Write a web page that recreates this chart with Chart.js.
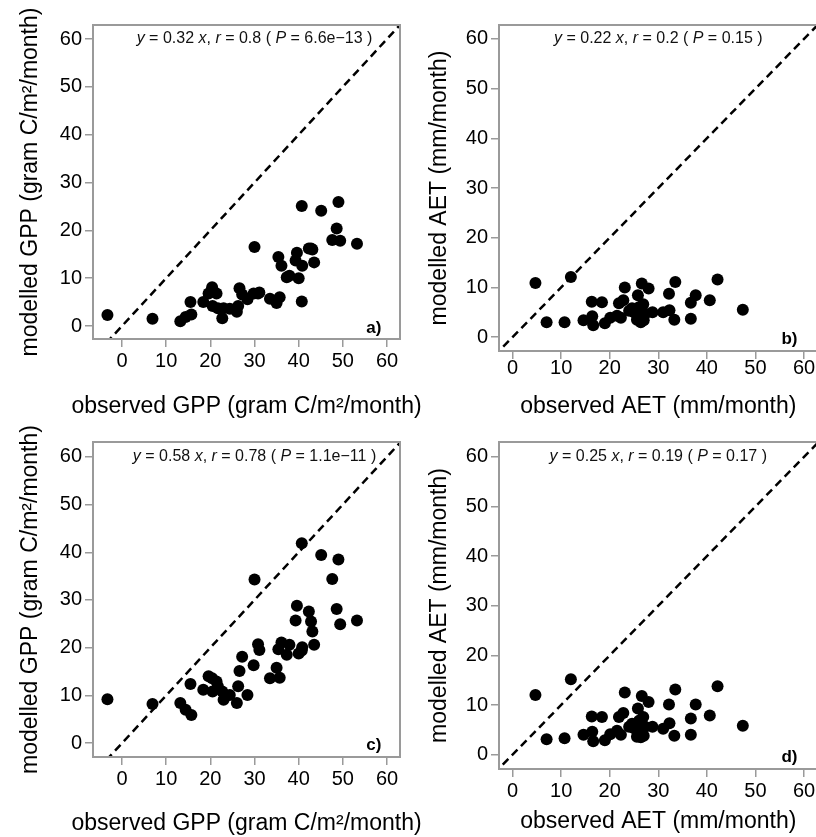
<!DOCTYPE html>
<html>
<head>
<meta charset="utf-8">
<script src="https://cdn.jsdelivr.net/npm/chart.js@4"></script>
<style>
  html, body { margin: 0; padding: 0; background: #fff; overflow: hidden; width: 816px; height: 837px; }
  canvas { position: absolute; }
</style>
</head>
<body>
<canvas id="panelA" width="430" height="420" style="left:0px;top:0px"></canvas>
<canvas id="panelB" width="420" height="420" style="left:406px;top:0px"></canvas>
<canvas id="panelC" width="430" height="420" style="left:0px;top:417px"></canvas>
<canvas id="panelD" width="420" height="420" style="left:406px;top:417px"></canvas>
<script>
/* ---------- DATA ---------- */
const axisTicks = [0, 10, 20, 30, 40, 50, 60];

// monthly GPP (gram C/m2/month): observed vs two model runs
const obsGPP = [-3.3, 6.9, 13.2, 14.4, 15.7, 15.5, 18.4, 19.6, 20.4, 20.5, 21.4, 21.7, 22.7, 23.0, 24.4,
    26.0, 26.3, 26.6, 27.2, 28.4, 29.8, 30.0, 30.8, 31.1, 33.5, 35.0, 35.7, 35.4, 36.1, 37.3, 37.9,
    39.3, 39.6, 40.0, 40.8, 40.7, 40.7, 42.3, 42.8, 43.1, 43.5, 45.1, 47.6, 48.6, 49.0, 49.4, 53.2];
const modGPP_a = [2.3, 1.5, 1.0, 1.9, 2.4, 5.0, 5.0, 6.8, 8.1, 4.2, 6.8, 3.7, 1.6, 3.7, 3.6,
    3.0, 4.2, 7.9, 6.6, 5.6, 6.8, 16.5, 6.8, 7.0, 5.7, 4.8, 6.0, 14.4, 12.6, 10.2, 10.5,
    13.7, 15.3, 10.0, 12.6, 25.1, 5.1, 16.2, 16.2, 16.0, 13.3, 24.1, 18.0, 20.4, 25.9, 17.8, 17.2];
const modGPP_c = [9.2, 8.2, 8.4, 7.0, 5.9, 12.4, 11.2, 14.0, 13.6, 10.8, 12.9, 11.9, 10.8, 9.1, 10.1,
    8.4, 11.9, 15.1, 18.1, 10.1, 16.3, 34.3, 20.7, 19.5, 13.6, 15.8, 13.7, 19.7, 21.1, 18.5, 20.6,
    25.7, 28.8, 18.8, 20.1, 41.9, 19.4, 27.6, 25.5, 23.4, 20.6, 39.4, 34.4, 28.1, 38.5, 24.9, 25.7];

// monthly AET (mm/month): observed vs two model runs
const obsAET = [4.7, 7.0, 10.7, 12.0, 14.6, 16.3, 16.6, 16.4, 18.4, 19.0, 20.1, 21.5, 21.9, 22.3,
    22.8, 23.1, 24.0, 24.6, 25.0, 25.8, 25.6, 26.0, 26.1, 26.4, 26.6, 26.9, 27.0, 27.3, 28.0, 28.8,
    31.0, 32.2, 32.3, 33.3, 33.5, 36.7, 36.7, 37.7, 40.6, 42.2, 47.4];
const modAET_b = [10.9, 3.0, 3.0, 12.1, 3.4, 7.1, 2.4, 4.2, 7.0, 2.8, 3.9, 4.3, 6.8, 3.9,
    7.4, 10.0, 5.3, 5.8, 5.0, 8.4, 3.5, 6.0, 4.8, 3.0, 10.8, 6.6, 3.4, 4.7, 9.8, 5.0,
    5.0, 8.7, 5.4, 3.5, 11.1, 3.7, 6.9, 8.4, 7.4, 11.6, 5.5];
const modAET_d = [12.0, 3.1, 3.3, 15.2, 4.0, 7.7, 2.7, 4.6, 7.6, 2.9, 4.1, 4.8, 7.6, 4.0,
    8.4, 12.5, 5.6, 6.2, 5.3, 9.3, 3.6, 6.8, 5.4, 3.5, 11.8, 7.6, 3.8, 5.6, 10.6, 5.6,
    5.2, 10.1, 6.3, 3.8, 13.1, 4.0, 7.3, 10.1, 7.9, 13.8, 5.8];

// regression summaries: [slope, r, P]
const statsA = ["0.32", "0.8", "6.6e\u221213"];
const statsB = ["0.22", "0.2", "0.15"];
const statsC = ["0.58", "0.78", "1.1e\u221211"];
const statsD = ["0.25", "0.19", "0.17"];

/* ---------- STYLE ---------- */
const FONT = "'Liberation Sans', Arial, sans-serif";
const FRAME = "#9a9a9a";

/* ---------- FRAME, X TITLE, STATS LINE, PANEL LETTER ---------- */
// x title is drawn here rather than by the scale, which squeezes it to the plot width
const panelDecor = {
    id: "panelDecor",
    afterDatasetsDraw(chart, args, opts) {
        const { ctx, chartArea: ca } = chart;
        const xs = chart.scales.x, ys = chart.scales.y;
        ctx.save();

        ctx.strokeStyle = FRAME;
        ctx.lineWidth = 2;
        ctx.strokeRect(ca.left, ca.top, ca.right - ca.left, ca.bottom - ca.top);

        const [slope, r, p] = opts.stats;
        const parts = [
            ["y", true], [" = " + slope + " ", false], ["x", true], [", ", false],
            ["r", true], [" = " + r + " ( ", false], ["P", true], [" = " + p + " )", false]
        ];
        const fontOf = it => (it ? "italic " : "") + "16px " + FONT;
        let total = 0;
        parts.forEach(([t, it]) => { ctx.font = fontOf(it); total += ctx.measureText(t).width; });
        let cx = xs.getPixelForValue(30) - total / 2;
        const cy = ys.getPixelForValue(60);
        ctx.fillStyle = "#111";
        ctx.textBaseline = "middle";
        ctx.textAlign = "left";
        parts.forEach(([t, it]) => {
            ctx.font = fontOf(it);
            ctx.fillText(t, cx, cy);
            cx += ctx.measureText(t).width;
        });

        ctx.font = "bold 17px " + FONT;
        ctx.textAlign = "center";
        ctx.fillStyle = "#000";
        ctx.fillText(opts.letter, xs.getPixelForValue(57), ys.getPixelForValue(-0.5));

        ctx.font = "23px " + FONT;
        ctx.fillText(opts.xTitle, (ca.left + ca.right) / 2, opts.xTitleY);

        ctx.restore();
    }
};

/* ---------- PANEL BUILDER ---------- */
function buildPanel(id, p) {
    const lo = Math.min(p.xMin, p.yMin) - 1;
    const hi = Math.max(p.xMax, p.yMax) + 1;

    const axis = (min, max, fit, tickPad) => ({
        type: "linear",
        min, max,
        afterBuildTicks: s => { s.ticks = axisTicks.map(v => ({ value: v })); },
        afterFit: fit,
        border: { display: false },
        grid: { drawOnChartArea: false, drawTicks: true, tickLength: 8, color: FRAME, lineWidth: 1.5 },
        ticks: { color: "#000", font: { family: FONT, size: 20 }, padding: tickPad, maxRotation: 0 }
    });

    const x = axis(p.xMin, p.xMax, s => { s.height = p.xAxisH; s.paddingLeft = 0; s.paddingRight = 0; }, p.xTickPad);
    const y = axis(p.yMin, p.yMax, s => { s.width = 93; s.paddingTop = 0; s.paddingBottom = 0; }, 3);
    y.title = {
        display: true, text: p.yTitle, color: "#000",
        font: { family: FONT, size: 23 }, padding: { top: p.yTitlePad, bottom: 0 }
    };

    return new Chart(document.getElementById(id), {
        data: {
            datasets: [
                {
                    type: "scatter",
                    data: p.obs.map((v, i) => ({ x: v, y: p.mod[i] })),
                    pointRadius: 6,
                    pointBackgroundColor: "#000",
                    pointBorderWidth: 0
                },
                {
                    // 1:1 line
                    type: "line",
                    data: [{ x: lo, y: lo }, { x: hi, y: hi }],
                    borderColor: "#000",
                    borderWidth: 2.5,
                    borderDash: [8, 5],
                    pointRadius: 0
                }
            ]
        },
        options: {
            responsive: false,
            animation: false,
            devicePixelRatio: 1,
            events: [],
            layout: { padding: { top: 25, right: p.padRight, left: 0, bottom: 0 } },
            plugins: {
                legend: { display: false },
                tooltip: { enabled: false },
                panelDecor: { stats: p.stats, letter: p.letter, xTitle: p.xTitle, xTitleY: p.xTitleY }
            },
            scales: { x, y }
        },
        plugins: [panelDecor]
    });
}

const gppX = "observed GPP (gram C/m\u00b2/month)";
const gppY = "modelled GPP (gram C/m\u00b2/month)";
const aetX = "observed AET (mm/month)";
const aetY = "modelled AET (mm/month)";

buildPanel("panelA", {
    obs: obsGPP, mod: modGPP_a, stats: statsA, letter: "a)",
    xMin: -6.57, xMax: 62.94, yMin: -2.72, yMax: 62.93,
    padRight: 30, xAxisH: 81, xTickPad: 2, xTitleY: 407, yTitlePad: 17,
    xTitle: gppX, yTitle: gppY
});
buildPanel("panelB", {
    obs: obsAET, mod: modAET_b, stats: statsB, letter: "b)",
    xMin: -2.8, xMax: 62.8, yMin: -2.8, yMax: 62.8,
    padRight: 8.4, xAxisH: 69, xTickPad: -3, xTitleY: 407, yTitlePad: 20,
    xTitle: aetX, yTitle: aetY
});
buildPanel("panelC", {
    obs: obsGPP, mod: modGPP_c, stats: statsC, letter: "c)",
    xMin: -6.57, xMax: 62.94, yMin: -2.9, yMax: 63.1,
    padRight: 30, xAxisH: 80, xTickPad: 2, xTitleY: 407, yTitlePad: 17,
    xTitle: gppX, yTitle: gppY
});
buildPanel("panelD", {
    obs: obsAET, mod: modAET_d, stats: statsD, letter: "d)",
    xMin: -2.8, xMax: 62.8, yMin: -2.9, yMax: 63.0,
    padRight: 8.4, xAxisH: 68, xTickPad: 2, xTitleY: 405, yTitlePad: 20,
    xTitle: aetX, yTitle: aetY
});
</script>
</body>
</html>
